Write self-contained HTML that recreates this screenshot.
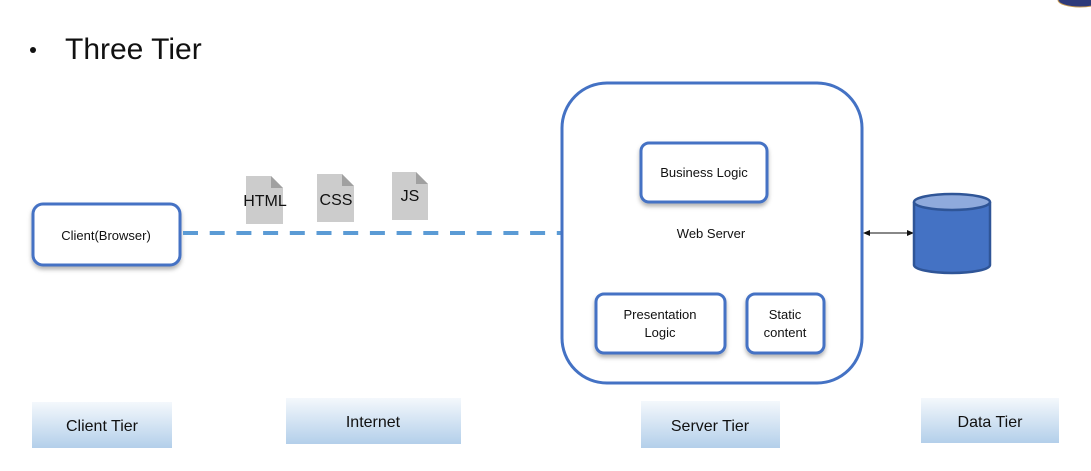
<!DOCTYPE html>
<html><head><meta charset="utf-8"><style>
html,body{margin:0;padding:0;background:#fff;width:1091px;height:471px;overflow:hidden}
svg text{font-family:"Liberation Sans",Arial,sans-serif}
</style></head><body>
<svg width="1091" height="471" viewBox="0 0 1091 471" xmlns="http://www.w3.org/2000/svg">
<defs>
<linearGradient id="g" x1="0" y1="0" x2="0" y2="1">
<stop offset="0" stop-color="#f4f8fc"/><stop offset="1" stop-color="#b3cfea"/>
</linearGradient>
<filter id="s" x="-20%" y="-20%" width="140%" height="150%"><feDropShadow dx="0" dy="3" stdDeviation="2" flood-color="#000" flood-opacity="0.3"/></filter>
</defs>
<ellipse cx="1080" cy="0" rx="22" ry="7" fill="#2e3a7a" stroke="#c89a50" stroke-width="1"/>
<circle cx="33" cy="50" r="3" fill="#111"/>
<text x="65" y="59" font-size="30" fill="#111">Three Tier</text>

<rect x="33" y="204" width="147" height="61" rx="10" fill="#fff" stroke="#4472C4" stroke-width="3" filter="url(#s)"/>
<text x="106" y="240" font-size="13" text-anchor="middle" fill="#111">Client(Browser)</text>

<line x1="183" y1="233" x2="570" y2="233" stroke="#5B9BD5" stroke-width="4" stroke-dasharray="15,11.7"/>

<g fill="#cccccc">
<path d="M246 176 H271 L283 188 V224 H246 Z"/><path d="M271 176 L283 188 H271Z" fill="#a0a0a0"/>
<path d="M317 174 H342 L354 186 V222 H317 Z"/><path d="M342 174 L354 186 H342Z" fill="#a0a0a0"/>
<path d="M392 172 H416 L428 184 V220 H392 Z"/><path d="M416 172 L428 184 H416Z" fill="#a0a0a0"/>
</g>
<text x="265" y="206" font-size="16" text-anchor="middle" fill="#111">HTML</text>
<text x="336" y="205" font-size="16" text-anchor="middle" fill="#111">CSS</text>
<text x="410" y="201" font-size="16" text-anchor="middle" fill="#111">JS</text>

<rect x="562" y="83" width="300" height="300" rx="45" fill="#fff" stroke="#4472C4" stroke-width="3"/>
<rect x="641" y="143" width="126" height="59" rx="8" fill="#fff" stroke="#4472C4" stroke-width="3" filter="url(#s)"/>
<text x="704" y="177" font-size="13" text-anchor="middle" fill="#111">Business Logic</text>
<text x="711" y="238" font-size="13" text-anchor="middle" fill="#111">Web Server</text>
<rect x="596" y="294" width="129" height="59" rx="8" fill="#fff" stroke="#4472C4" stroke-width="3" filter="url(#s)"/>
<text x="660" y="319" font-size="13" text-anchor="middle" fill="#111">Presentation</text>
<text x="660" y="337" font-size="13" text-anchor="middle" fill="#111">Logic</text>
<rect x="747" y="294" width="77" height="59" rx="8" fill="#fff" stroke="#4472C4" stroke-width="3" filter="url(#s)"/>
<text x="785" y="319" font-size="13" text-anchor="middle" fill="#111">Static</text>
<text x="785" y="337" font-size="13" text-anchor="middle" fill="#111">content</text>

<line x1="868" y1="233" x2="909" y2="233" stroke="#111" stroke-width="1"/>
<path d="M863 233 L870 230 L870 236Z M914 233 L907 230 L907 236Z" fill="#111"/>

<path d="M914 202 V265 A38 8 0 0 0 990 265 V202" fill="#4472C4" stroke="#2f5597" stroke-width="2.5"/>
<ellipse cx="952" cy="202" rx="38" ry="8" fill="#8faadc" stroke="#2f5597" stroke-width="2.5"/>

<rect x="32" y="402" width="140" height="46" fill="url(#g)"/>
<text x="102" y="431" font-size="16" text-anchor="middle" fill="#111">Client Tier</text>
<rect x="286" y="398" width="175" height="46" fill="url(#g)"/>
<text x="373" y="427" font-size="16" text-anchor="middle" fill="#111">Internet</text>
<rect x="641" y="401" width="139" height="47" fill="url(#g)"/>
<text x="710" y="431" font-size="16" text-anchor="middle" fill="#111">Server Tier</text>
<rect x="921" y="398" width="138" height="45" fill="url(#g)"/>
<text x="990" y="427" font-size="16" text-anchor="middle" fill="#111">Data Tier</text>
</svg>
</body></html>
